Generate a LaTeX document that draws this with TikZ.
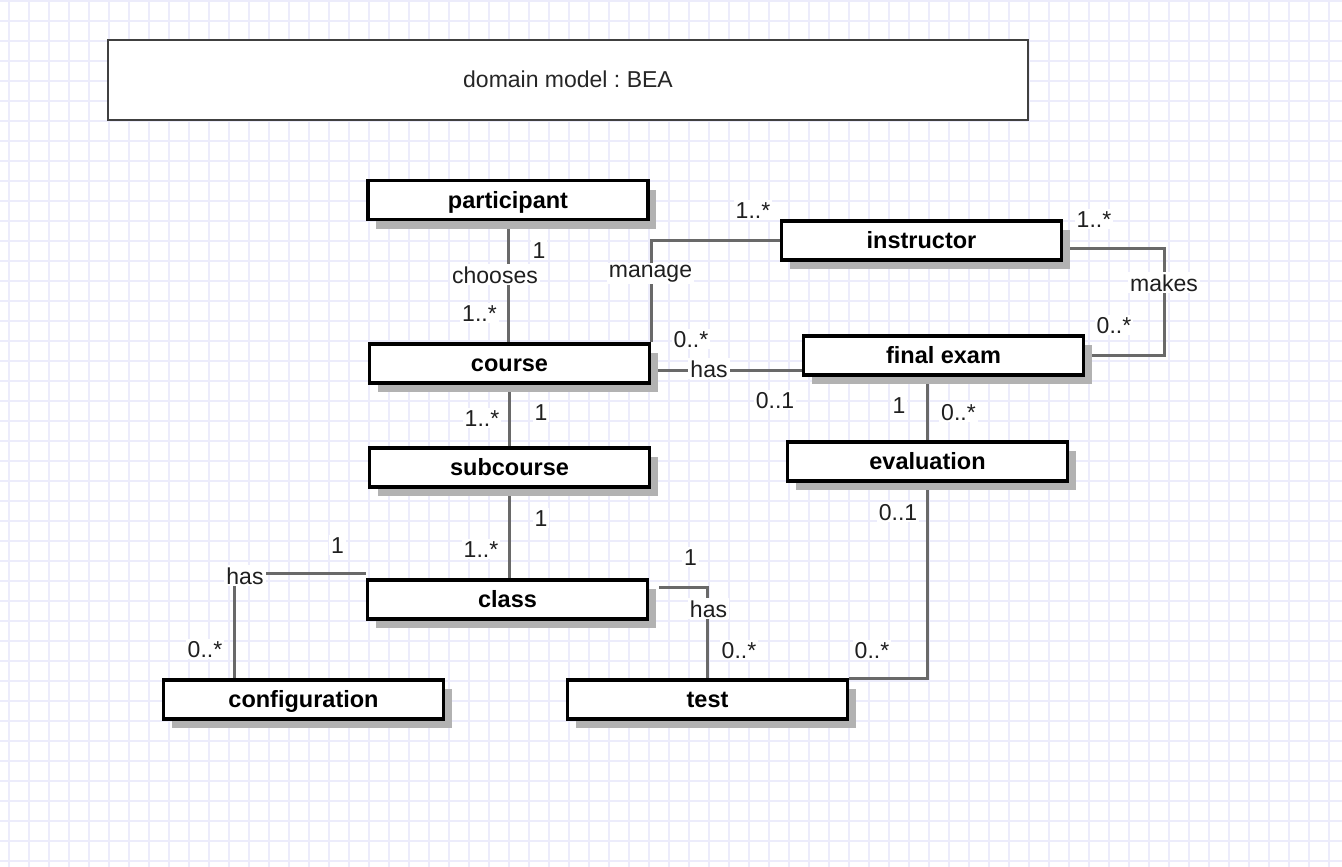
\documentclass[tikz,border=0pt]{standalone}
\usepackage{fontspec}
\setmainfont{Liberation Sans}
\usetikzlibrary{shadows, calc, backgrounds}
\definecolor{gridlav}{RGB}{236,236,251}
\definecolor{linegray}{RGB}{105,105,105}
\frenchspacing

\begin{document}
\begin{tikzpicture}[x=1pt, y=-1pt,
  cls/.style={draw=black, line width=3.6pt, fill=white, minimum width=280pt, minimum height=39pt,
    inner sep=0pt, text height=18pt, text depth=2pt, font=\fontsize{23.5}{28}\selectfont\bfseries,
    drop shadow={shadow xshift=8pt, shadow yshift=-9pt, fill=black!30, opacity=1}},
  conn/.style={draw=linegray, line width=3pt},
  lbl/.style={fill=white, inner sep=2pt, anchor=base, text=black!88, font=\fontsize{23}{27}\selectfont}]
  \useasboundingbox (0,0) rectangle (1342,867);

  % grid paper
  \begin{scope}[on background layer]
    \fill[white] (0,0) rectangle (1342,867);
    \foreach \x in {9,29,...,1342} \draw[gridlav, line width=1.2pt] (\x,0) -- (\x,867);
    \foreach \y in {1,21,...,867} \draw[gridlav, line width=1.2pt] (0,\y) -- (1342,\y);
  \end{scope}

  \node[draw=black!75, line width=2pt, fill=white, minimum width=920pt, minimum height=80pt,
    text height=18pt, text depth=2pt, text=black!85, font=\fontsize{23}{27}\selectfont]
    (title) at (568,80) {domain model : BEA};

  % classes
  \node[cls] (participant) at (508,200) {participant};
  \node[cls] (instructor) at (921.5,240.5) {instructor};
  \node[cls] (course) at (509.5,363.5) {course};
  \node[cls] (final) at (943.5,355.5) {final exam};
  \node[cls] (subcourse) at (509.5,467.5) {subcourse};
  \node[cls] (evaluation) at (927.5,461.5) {evaluation};
  \node[cls] (class) at (507.5,599.5) {class};
  \node[cls] (configuration) at (303.5,699.5) {configuration};
  \node[cls] (test) at (707.5,699.5) {test};

  % associations
  \begin{scope}[on background layer]
    \draw[conn] (participant.south) -- (participant.south |- course.north);
    \draw[conn] (course.north east) |- (instructor.west);
    \draw[conn] ([yshift=-7.5pt]instructor.east) -| ([xshift=79.5pt]final.east) -- (final.east);
    \draw[conn] ([yshift=-6.5pt]course.east) -- ([yshift=-6.5pt]course.east -| final.west);
    \draw[conn] (evaluation.north) -- (evaluation.north |- final.south);
    \draw[conn] (course.south) -- (subcourse.north);
    \draw[conn] (subcourse.south) -- (subcourse.south |- class.north);
    \draw[conn] ([yshift=4.5pt]class.north west) -| ([xshift=-69.5pt]configuration.north);
    \draw[conn] ([xshift=10pt, yshift=12.5pt]class.east) -| (test.north);
    \draw[conn] (evaluation.south) |- (test.north east);
  \end{scope}

  % role names and multiplicities
  \foreach \txt/\x/\y [count=\i] in {1/539/258, chooses/495/283, 1..*/479.5/321,
      manage/650.5/277, 1..*/753/218,
      1..*/1094/227, makes/1164/291, 0..*/1114/333,
      0..*/691/347, has/709/377, 0..1/775/408,
      1/899/413, 0..*/958.5/420,
      1..*/482/426, 1/541/420,
      1/541/526, 1..*/481/557,
      1/337.5/553, has/245/584, 0..*/205/657,
      1/690.5/565, has/708.5/617, 0..*/739/658,
      0..1/898/520, 0..*/872/658}
    \node[lbl] (m\i) at (\x,\y) {\txt};
\end{tikzpicture}
\end{document}
